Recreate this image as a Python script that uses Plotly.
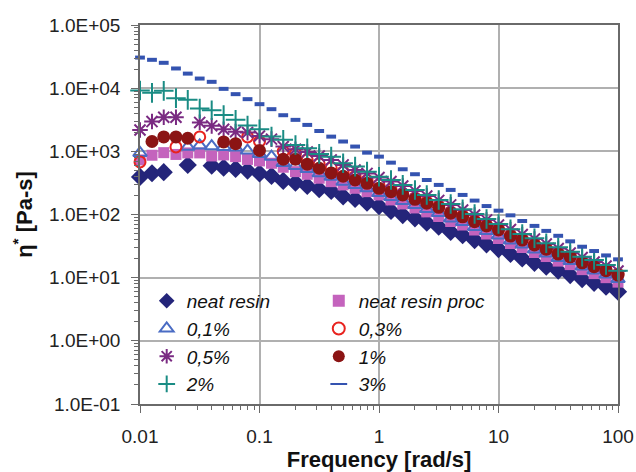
import plotly.graph_objects as go

# Angular frequency sweep [rad/s], 10 points per decade
freq = [0.01, 0.0126, 0.0158, 0.02, 0.0251, 0.0316, 0.0398, 0.0501, 0.0631, 0.0794,
        0.1, 0.126, 0.158, 0.2, 0.251, 0.316, 0.398, 0.501, 0.631, 0.794,
        1, 1.26, 1.58, 2, 2.51, 3.16, 3.98, 5.01, 6.31, 7.94,
        10, 12.6, 15.8, 20, 25.1, 31.6, 39.8, 50.1, 63.1, 79.4, 100]

# Complex viscosity eta* [Pa-s] (None = no reading)
neat_resin = [393, 450, 467, None, 608, None, 593, 552, 526, 495,
              447, 408, 340, 319, 283, 251, 236, 193, 176, 154,
              136, 114, 98, 87, 74, 64, 53, 47, 39.4, 33.7,
              28.4, 23.7, 20.2, 17.2, 14.9, 12.9, 11.0, 9.5, 8.3, 7.2, 6.0]
neat_resin_proc = [731, 867, 953, 893, 944, 944, 845, 877, 824, 745,
                   705, 647, 560, 477, 433, 375, 331, 294, 260, 230,
                   204, 170, 147, 127, 110, 93, 77.5, 68.2, 56.8, 49.1,
                   41.7, 34.7, 30.0, 25.0, 21.6, 18.3, 16.1, 13.4, 11.6, 10.0, 8.5]
pct_0_1 = [944, None, None, None, 1185, 1240, 1205, 1175, 1150, 1030,
           910, 824, 655, 587, 526, 450, 397, 331, 294, 260,
           219, 189, 164, 142, 122, 106, 86.5, 76, 63.4, 54.8,
           46.5, 38.7, 33.5, 27.9, 24.1, 20.5, 18.3, 15.0, 13.0, 11.2, 9.5]
pct_0_3 = [680, None, None, 1175, None, 1690, None, None, None, 1690,
           1435, None, 995, 926, 731, 631, 546, 472, 400, 346,
           294, 249, 215, 183, 158, 136, 110, 96, 80, 68,
           59, 47.3, 40.9, 34.1, 29.1, 24.5, 22.0, 18.0, 15.6, 13.4, 11.4]
pct_0_5 = [2180, 2960, 3470, 3470, None, 2870, 2530, 2240, 2050, 1980,
           1750, 1560, 1190, 1080, 977, 845, 731, 609, 507, 447,
           386, 333, 283, 236, 196, 167, 142, 118, 98, 82,
           68, 57.8, 48.2, 40.9, 34.0, 28.9, 24.5, 20.8, 17.7, 15.3, 12.7]
pct_1 = [None, 1430, 1690, 1690, 1610, None, None, 1410, 1320, None,
         1030, None, 750, 750, 627, 540, 455, 403, 352, 312,
         260, 230, 204, 174, 151, 130, 105, 92, 77, 65.8,
         56.8, 45.6, 39.4, 32.9, 28.1, 23.6, 21.4, 17.2, 14.9, 12.9, 11.0]
pct_2 = [9160, 8430, 9060, 6950, 6530, 4750, 4480, 3770, 3150, 2570,
         2240, 1710, 1520, 1260, 1120, 910, 824, 647, 573, 477,
         397, 352, 294, 244, 204, 170, 147, 121, 102, 85,
         70.8, 58.2, 49.1, 42.0, 35.0, 30.2, 25.7, 21.4, 19.0, 15.9, 12.9]
pct_3 = [30500, 28100, 25200, 20500, 17000, 14200, 12600, 9750, 8040, 6700,
         5580, 4650, 3730, 3150, 2620, 2100, 1710, 1430, 1190, 953,
         824, 662, 520, 434, 352, 294, 245, 204, 166, 136,
         115, 97, 79, 66, 55, 46, 37.6, 30.9, 26.4, 22.5, 19.5]

x_ticks = [0.01, 0.1, 1, 10, 100]
x_labels = ["0.01", "0.1", "1", "10", "100"]
y_ticks = [0.1, 1, 10, 100, 1000, 10000, 100000]
y_labels = ["1.0E-01", "1.0E+00", "1.0E+01", "1.0E+02", "1.0E+03", "1.0E+04", "1.0E+05"]

# name, values, symbol, size, colour, outline width, legend column
series = [
    ("neat resin", neat_resin, "diamond", 14, "#24257a", 0, "legend"),
    ("neat resin proc", neat_resin_proc, "square", 11, "#c463bd", 0, "legend2"),
    ("0,1%", pct_0_1, "triangle-up-open", 12, "#4a6cc4", 2, "legend"),
    ("0,3%", pct_0_3, "circle-open", 11, "#e8231f", 2, "legend2"),
    ("0,5%", pct_0_5, "asterisk-open", 13, "#7a2a82", 2, "legend"),
    ("1%", pct_1, "circle", 13, "#8b1414", 0, "legend2"),
    ("2%", pct_2, "cross-thin-open", 14, "#1a8c84", 2, "legend"),
    ("3%", pct_3, "line-ew-open", 7, "#3453b0", 4, "legend2"),
]

fig = go.Figure()
for name, vals, sym, size, col, lw, leg in series:
    marker = dict(symbol=sym, size=size, color=col)
    marker["line"] = dict(width=lw, color=col)
    fig.add_trace(go.Scatter(
        x=freq, y=vals, mode="markers", name=name, marker=marker,
        legend=leg, cliponaxis=False,
    ))

font_family = "Liberation Sans, Arial, Helvetica, sans-serif"
axis_common = dict(
    type="log",
    showline=True, mirror=True, linecolor="#6a6a6a", linewidth=1.5,
    showgrid=True, gridcolor="#b0b0b0", gridwidth=1.5,
    ticks="outside", ticklen=7, tickcolor="#6a6a6a", tickwidth=1.2,
    minor=dict(ticks="outside", ticklen=4, tickcolor="#6a6a6a", tickwidth=1, dtick="D1", showgrid=False),
    tickfont=dict(family=font_family, size=19, color="#222222"),
    zeroline=False,
)

fig.update_xaxes(
    **axis_common, range=[-2, 2], tickvals=x_ticks, ticktext=x_labels,
    ticklabelstandoff=7,
    title=dict(text="<b>Frequency [rad/s]</b>", font=dict(family=font_family, size=22, color="#111111"), standoff=2),
)
fig.update_yaxes(
    **axis_common, range=[-1, 5], tickvals=y_ticks, ticktext=y_labels,
    ticklabelstandoff=7,
    title=dict(text="<b>η<sup>*</sup> [Pa-s]</b>", font=dict(family=font_family, size=22, color="#111111"), standoff=10),
)

legend_common = dict(
    bgcolor="rgba(255,255,255,0)", borderwidth=0,
    font=dict(family=font_family, size=19, color="#111111", style="italic"),
    xanchor="left", yanchor="top", y=0.322,
    traceorder="normal", itemsizing="constant",
)

fig.update_layout(
    width=636, height=472,
    margin=dict(l=140, r=18, t=25, b=68, autoexpand=False),
    paper_bgcolor="white", plot_bgcolor="white",
    font=dict(family=font_family),
    legend=dict(**legend_common, x=0.014),
    legend2=dict(**legend_common, x=0.374),
    shapes=[dict(
        type="rect", xref="paper", yref="paper",
        x0=0.017, x1=0.741, y0=0.026, y1=0.325,
        fillcolor="white", line=dict(width=0), layer="between",
    )],
)

fig.write_html("out.html")
